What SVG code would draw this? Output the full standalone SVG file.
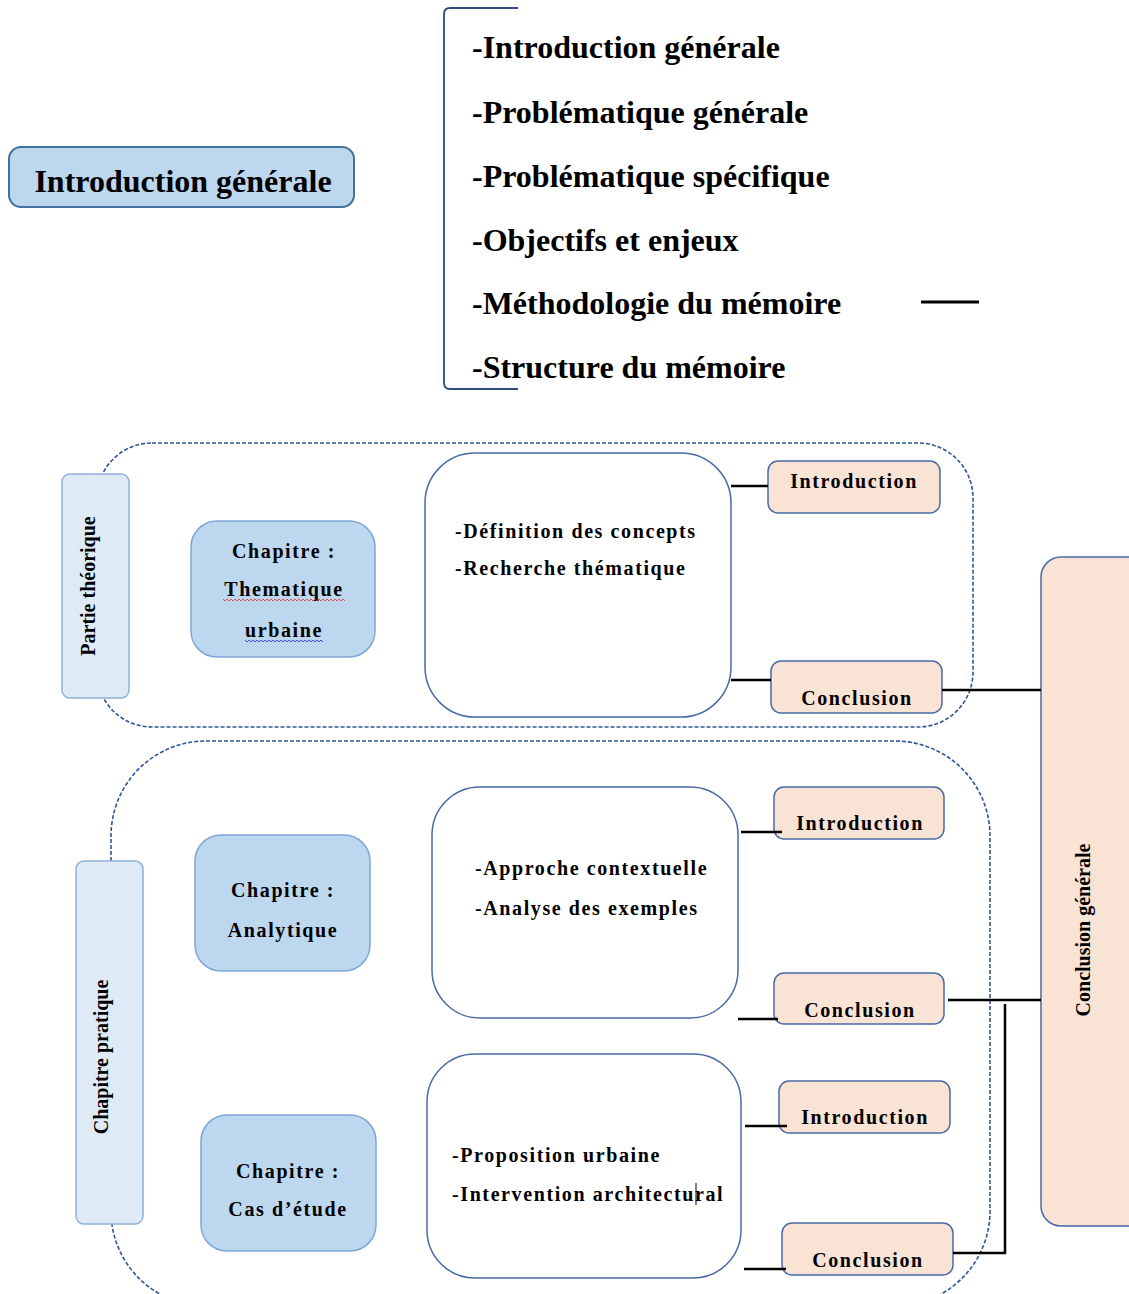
<svg xmlns="http://www.w3.org/2000/svg" width="1129" height="1294" viewBox="0 0 1129 1294">
<style>
.big{font-family:"Liberation Serif","Times New Roman",serif;font-weight:bold;font-size:32px;fill:#000}
.lbl{font-family:"Liberation Serif","Times New Roman",serif;font-weight:bold;font-size:20px;fill:#000;letter-spacing:1.6px}
.side{font-family:"Liberation Serif","Times New Roman",serif;font-weight:bold;font-size:20px;fill:#000}
.dash{fill:none;stroke:#2f5597;stroke-width:1.6;stroke-dasharray:4 2}
.chap{fill:#bdd7ee;stroke:#7ea6d6;stroke-width:1.5}
.part{fill:#deebf7;stroke:#8fb0da;stroke-width:1.5}
.cont{fill:#fff;stroke:#4a6aa5;stroke-width:1.5}
.peach{fill:#f9e3d4;stroke:#4a6aa5;stroke-width:1.5}
.conn{fill:none;stroke:#000;stroke-width:2.5}
</style>

<!-- dashed containers -->
<g id="containers">
<rect class="dash" x="97" y="443" width="876" height="284" rx="55"/>
<rect class="dash" x="111" y="741" width="879" height="565" rx="95"/>
</g>

<g id="intro-generale">
<rect x="9" y="147" width="345" height="60" rx="12" fill="#bdd7ee" stroke="#41719c" stroke-width="2"/>
<text class="big" x="183" y="192" text-anchor="middle">Introduction générale</text>
</g>

<g id="intro-list">
<path d="M518 8 H450 Q444 8 444 14 V383 Q444 389 450 389 H518" fill="none" stroke="#2f4b7c" stroke-width="1.8"/>
<text class="big" x="472" y="58">-Introduction générale</text>
<text class="big" x="472" y="123">-Problématique générale</text>
<text class="big" x="472" y="187">-Problématique spécifique</text>
<text class="big" x="472" y="251">-Objectifs et enjeux</text>
<text class="big" x="472" y="314">-Méthodologie du mémoire</text>
<text class="big" x="472" y="378">-Structure du mémoire</text>
<line x1="921" y1="302" x2="979" y2="302" stroke="#000" stroke-width="3"/>
</g>

<g id="partie-theorique">
<rect class="part" x="62" y="474" width="67" height="224" rx="8"/>
<text class="side" transform="translate(95,586) rotate(-90)" text-anchor="middle">Partie théorique</text>
</g>

<g id="chap-thematique">
<rect class="chap" x="191" y="521" width="184" height="136" rx="26"/>
<text class="lbl" x="284" y="558" text-anchor="middle">Chapitre :</text>
<text class="lbl" x="284" y="596" text-anchor="middle">Thematique</text>
<text class="lbl" x="284" y="637" text-anchor="middle">urbaine</text>
<path d="M223 599 l2 2 l2 -2 l2 2 l2 -2 l2 2 l2 -2 l2 2 l2 -2 l2 2 l2 -2 l2 2 l2 -2 l2 2 l2 -2 l2 2 l2 -2 l2 2 l2 -2 l2 2 l2 -2 l2 2 l2 -2 l2 2 l2 -2 l2 2 l2 -2 l2 2 l2 -2 l2 2 l2 -2 l2 2 l2 -2 l2 2 l2 -2 l2 2 l2 -2 l2 2 l2 -2 l2 2 l2 -2 l2 2 l2 -2 l2 2 l2 -2 l2 2 l2 -2 l2 2 l2 -2 l2 2 l2 -2 l2 2 l2 -2 l2 2 l2 -2 l2 2 l2 -2 l2 2 l2 -2 l2 2 l2 -2 l2 2" fill="none" stroke="#e03030" stroke-width="0.8"/>
<path d="M245 640 l2 2 l2 -2 l2 2 l2 -2 l2 2 l2 -2 l2 2 l2 -2 l2 2 l2 -2 l2 2 l2 -2 l2 2 l2 -2 l2 2 l2 -2 l2 2 l2 -2 l2 2 l2 -2 l2 2 l2 -2 l2 2 l2 -2 l2 2 l2 -2 l2 2 l2 -2 l2 2 l2 -2 l2 2 l2 -2 l2 2 l2 -2 l2 2 l2 -2 l2 2 l2 -2 l2 2" fill="none" stroke="#2030e0" stroke-width="0.8"/>
</g>

<g id="content-1">
<rect class="cont" x="425" y="453" width="306" height="264" rx="50"/>
<text class="lbl" x="455" y="538">-Définition des concepts</text>
<text class="lbl" x="455" y="575">-Recherche thématique</text>
</g>

<g id="intro-1">
<rect class="peach" x="768" y="461" width="172" height="52" rx="10"/>
<text class="lbl" x="854" y="488" text-anchor="middle">Introduction</text>
</g>
<g id="concl-1">
<rect class="peach" x="771" y="661" width="171" height="52" rx="10"/>
<text class="lbl" x="857" y="705" text-anchor="middle">Conclusion</text>
</g>

<g id="chapitre-pratique">
<rect class="part" x="76" y="861" width="67" height="363" rx="8"/>
<text class="side" transform="translate(108,1057) rotate(-90)" text-anchor="middle">Chapitre pratique</text>
</g>

<g id="chap-analytique">
<rect class="chap" x="195" y="835" width="175" height="136" rx="26"/>
<text class="lbl" x="283" y="897" text-anchor="middle">Chapitre :</text>
<text class="lbl" x="283" y="937" text-anchor="middle">Analytique</text>
</g>

<g id="chap-cas">
<rect class="chap" x="201" y="1115" width="175" height="136" rx="26"/>
<text class="lbl" x="288" y="1178" text-anchor="middle">Chapitre :</text>
<text class="lbl" x="288" y="1216" text-anchor="middle">Cas d’étude</text>
</g>

<g id="content-2">
<rect class="cont" x="432" y="787" width="306" height="231" rx="48"/>
<text class="lbl" x="475" y="875">-Approche contextuelle</text>
<text class="lbl" x="475" y="915">-Analyse des exemples</text>
</g>

<g id="content-3">
<rect class="cont" x="427" y="1054" width="314" height="224" rx="48"/>
<text class="lbl" x="452" y="1162">-Proposition urbaine</text>
<text class="lbl" x="452" y="1201">-Intervention architectural</text>
<line x1="696" y1="1183" x2="696" y2="1205" stroke="#000" stroke-width="1"/>
</g>

<g id="intro-2">
<rect class="peach" x="774" y="787" width="170" height="52" rx="10"/>
<text class="lbl" x="860" y="830" text-anchor="middle">Introduction</text>
</g>
<g id="concl-2">
<rect class="peach" x="774" y="973" width="170" height="51" rx="10"/>
<text class="lbl" x="860" y="1017" text-anchor="middle">Conclusion</text>
</g>
<g id="intro-3">
<rect class="peach" x="779" y="1081" width="171" height="52" rx="10"/>
<text class="lbl" x="865" y="1124" text-anchor="middle">Introduction</text>
</g>
<g id="concl-3">
<rect class="peach" x="782" y="1223" width="171" height="52" rx="10"/>
<text class="lbl" x="868" y="1267" text-anchor="middle">Conclusion</text>
</g>

<g id="conclusion-generale">
<rect class="peach" x="1041" y="557" width="110" height="669" rx="20"/>
<text class="side" transform="translate(1090,930) rotate(-90)" text-anchor="middle">Conclusion générale</text>
</g>

<g id="connectors">
<line class="conn" x1="731" y1="486" x2="768" y2="486"/>
<line class="conn" x1="731" y1="680" x2="771" y2="680"/>
<line class="conn" x1="942" y1="690" x2="1041" y2="690"/>
<line class="conn" x1="741" y1="832" x2="782" y2="832"/>
<line class="conn" x1="738" y1="1019" x2="778" y2="1019"/>
<line class="conn" x1="948" y1="1000" x2="1041" y2="1000"/>
<line class="conn" x1="745" y1="1126" x2="787" y2="1126"/>
<line class="conn" x1="744" y1="1269" x2="786" y2="1269"/>
<polyline class="conn" points="953,1253 1005,1253 1005,1004"/>
</g>
</svg>
